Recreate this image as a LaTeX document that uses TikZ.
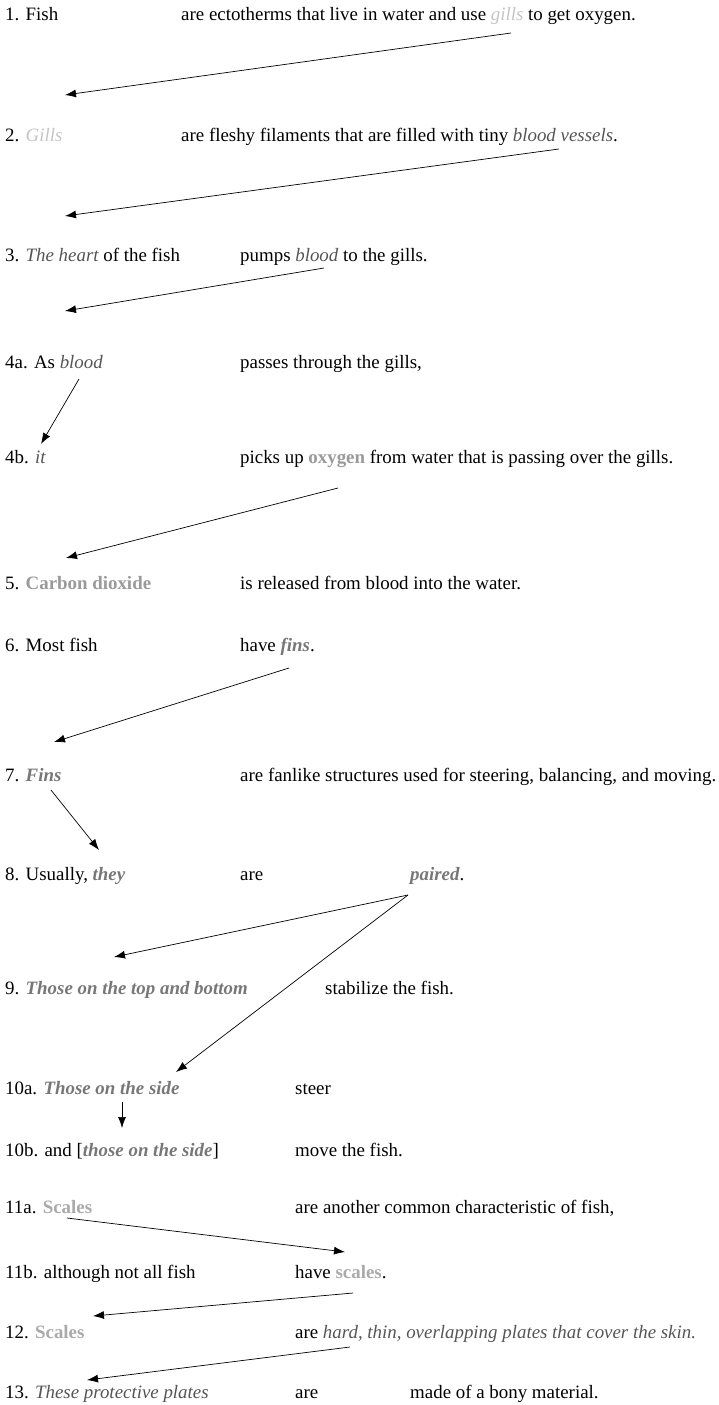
\documentclass[tikz,border=0pt]{standalone}
\usepackage{fontspec}
\setmainfont{Liberation Serif}
\usetikzlibrary{arrows.meta}
\definecolor{lightg}{HTML}{C4C4C4}
\definecolor{darkg}{HTML}{555555}
\definecolor{oxyg}{HTML}{9A9A9A}
\definecolor{fing}{HTML}{777777}
\definecolor{scaleg}{HTML}{AAAAAA}
\newcommand{\tgl}[1]{{\color{lightg}\itshape #1}}
\newcommand{\tdk}[1]{{\color{darkg}\itshape #1}}
\newcommand{\tox}[1]{{\color{oxyg}\bfseries #1}}
\newcommand{\tfi}[1]{{\color{fing}\bfseries\itshape #1}}
\newcommand{\tsc}[1]{{\color{scaleg}\bfseries #1}}
\begin{document}
\begin{tikzpicture}[x=1pt,y=-1pt,
  txt/.style={anchor=base west,inner sep=0pt,font=\fontsize{18.9}{22}\selectfont},
  arr/.style={-{Latex[length=11pt,width=8pt]},line width=0.7pt}]
\useasboundingbox (0,0) rectangle (719,1405);
% rows
\node[txt] (l1) at (5,21) {1. Fish};
\node[txt] (r1) at (181,21) {are ectotherms that live in water and use \tgl{gills} to get oxygen.};
\node[txt] (l2) at (5,141) {2. \tgl{Gills}};
\node[txt] (r2) at (181,141) {are fleshy filaments that are filled with tiny \tdk{blood vessels}.};
\node[txt] (l3) at (5,261) {3. \tdk{The heart} of the fish};
\node[txt] (r3) at (240,261) {pumps \tdk{blood} to the gills.};
\node[txt] (l4a) at (5,368) {4a. As \tdk{blood}};
\node[txt] (r4a) at (240,368) {passes through the gills,};
\node[txt] (l4b) at (5,463) {4b. \tdk{it}};
\node[txt] (r4b) at (240,463) {picks up \tox{oxygen} from water that is passing over the gills.};
\node[txt] (l5) at (5,589) {5. \tox{Carbon dioxide}};
\node[txt] (r5) at (240,589) {is released from blood into the water.};
\node[txt] (l6) at (5,651) {6. Most fish};
\node[txt] (r6) at (240,651) {have \tfi{fins}.};
\node[txt] (l7) at (5,781) {7. \tfi{Fins}};
\node[txt] (r7) at (240,781) {are fanlike structures used for steering, balancing, and moving.};
\node[txt] (l8) at (5,880) {8. Usually, \tfi{they}};
\node[txt] (r8) at (240,880) {are};
\node[txt] (p8) at (410,880) {\tfi{paired}.};
\node[txt] (l9) at (5,994) {9. \tfi{Those on the top and bottom}};
\node[txt] (r9) at (325,994) {stabilize the fish.};
\node[txt] (l10a) at (5,1094) {10a. \tfi{Those on the side}};
\node[txt] (r10a) at (295,1094) {steer};
\node[txt] (l10b) at (5,1156) {10b. and [\tfi{those on the side}]};
\node[txt] (r10b) at (295,1156) {move the fish.};
\node[txt] (l11a) at (5,1213) {11a. \tsc{Scales}};
\node[txt] (r11a) at (295,1213) {are another common characteristic of fish,};
\node[txt] (l11b) at (5,1278) {11b. although not all fish};
\node[txt] (r11b) at (295,1278) {have \tsc{scales}.};
\node[txt] (l12) at (5,1338) {12. \tsc{Scales}};
\node[txt] (r12) at (295,1338) {are \tdk{hard, thin, overlapping plates that cover the skin.}};
\node[txt] (l13) at (5,1398) {13. \tdk{These protective plates}};
\node[txt] (r13) at (295,1398) {are};
\node[txt] (m13) at (410,1398) {made of a bony material.};
% arrow end points
\coordinate (s1) at (511,33);   \coordinate (e1) at (65,95);
\coordinate (s2) at (559,149);  \coordinate (e2) at (65,216);
\coordinate (s3) at (324,268);  \coordinate (e3) at (65,311);
\coordinate (s4) at (79,379);   \coordinate (e4) at (41,444);
\coordinate (s5) at (338,488);  \coordinate (e5) at (66,558);
\coordinate (s6) at (289,668);  \coordinate (e6) at (54,742);
\coordinate (s7) at (51,790);   \coordinate (e7) at (99,850);
\coordinate (s8) at (408,895);  \coordinate (e8) at (114,957);
\coordinate (e9) at (176,1072);
\coordinate (s10) at (122,1102); \coordinate (e10) at (122,1128);
\coordinate (s11) at (67,1218); \coordinate (e11) at (345,1252);
\coordinate (s12) at (353,1293); \coordinate (e12) at (93,1316);
\coordinate (s13) at (350,1347); \coordinate (e13) at (87,1380);
\draw[arr] (s1) -- (e1);
\draw[arr] (s2) -- (e2);
\draw[arr] (s3) -- (e3);
\draw[arr] (s4) -- (e4);
\draw[arr] (s5) -- (e5);
\draw[arr] (s6) -- (e6);
\draw[arr] (s7) -- (e7);
\draw[arr] (s8) -- (e8);
\draw[arr] (s8) -- (e9);
\draw[arr] (s10) -- (e10);
\draw[arr] (s11) -- (e11);
\draw[arr] (s12) -- (e12);
\draw[arr] (s13) -- (e13);
\end{tikzpicture}
\end{document}
